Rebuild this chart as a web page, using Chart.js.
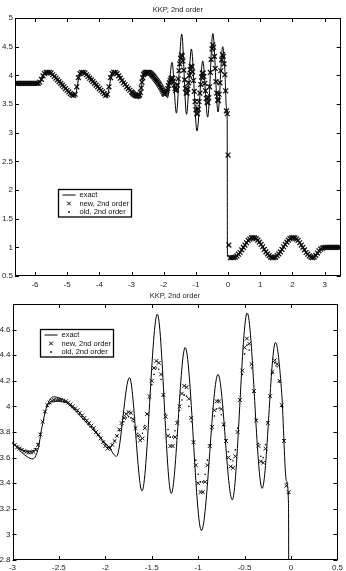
<!DOCTYPE html>
<html lang="en">
<head>
    <meta charset="UTF-8">
    <title>KKP, 2nd order</title>
    <script src="https://cdn.jsdelivr.net/npm/chart.js"></script>
    <style>
        html, body { margin: 0; padding: 0; background: #fff; }
        .panel { position: absolute; left: 0; width: 346px; }
        #topPanel { top: 0; height: 292px; }
        #zoomPanel { top: 285px; height: 286px; }
    </style>
</head>
<body>
    <!-- full domain -->
    <div class="panel" id="topPanel"><canvas id="topChart" width="346" height="292"></canvas></div>
    <!-- close-up of the oscillating part -->
    <div class="panel" id="zoomPanel"><canvas id="zoomChart" width="346" height="286"></canvas></div>

    <script>
        const titleText = 'KKP, 2nd order';
        const seriesNames = ['exact', 'new, 2nd order', 'old, 2nd order'];

        // exact solution, read at its turning points
        const exactX = [-6.62, -5.90, -5.80, -5.72, -5.64, -5.50, -5.15, -4.85, -4.78, -4.72,
                        -4.66, -4.60, -4.54, -4.42, -4.10, -3.84, -3.78, -3.72, -3.66, -3.60,
                        -3.54, -3.42, -3.20, -3.00, -2.90, -2.78, -2.72, -2.69, -2.63, -2.56,
                        -2.45, -2.20, -1.96, -1.88, -1.74, -1.605, -1.44, -1.29, -1.14, -0.965,
                        -0.786, -0.633, -0.472, -0.311, -0.167, -0.10, -0.05, -0.027, -0.02, 0.16,
                        0.78, 1.40, 2.02, 2.64, 2.80, 2.95, 3.05, 3.50];
        const exactY = [3.86, 3.86, 3.92, 4.03, 4.065, 4.04, 3.85, 3.65, 3.62, 3.70,
                        3.90, 4.03, 4.065, 4.04, 3.85, 3.66, 3.61, 3.70, 3.90, 4.03,
                        4.065, 4.03, 3.86, 3.72, 3.64, 3.59, 3.68, 3.81, 4.00, 4.075,
                        4.05, 3.87, 3.68, 3.61, 4.225, 3.34, 4.72, 3.32, 4.46, 3.03,
                        4.25, 3.27, 4.73, 3.36, 4.50, 4.10, 3.42, 3.24, 0.84, 0.82,
                        1.17, 0.82, 1.17, 0.82, 0.90, 0.99, 1.0, 1.0];

        // numerical solutions on the solver grid
        // left part (x = -6.6 .. -3.05), new and old coincide here
        const leftStart = -6.6, leftStep = 0.05;
        const newLeft = [3.86, 3.86, 3.86, 3.86, 3.86, 3.86, 3.86, 3.86, 3.86, 3.86,
                         3.86, 3.86, 3.86, 3.86, 3.86, 3.88, 3.93, 3.99, 4.03, 4.05,
                         4.05, 4.05, 4.04, 4.01, 3.98, 3.95, 3.92, 3.89, 3.86, 3.83,
                         3.80, 3.77, 3.74, 3.71, 3.68, 3.66, 3.65, 3.67, 3.80, 3.96,
                         4.03, 4.05, 4.05, 4.04, 4.01, 3.98, 3.95, 3.92, 3.89, 3.86,
                         3.83, 3.80, 3.77, 3.74, 3.71, 3.68, 3.65, 3.67, 3.80, 3.96,
                         4.03, 4.05, 4.05, 4.03, 3.99, 3.95, 3.91, 3.87, 3.84, 3.80,
                         3.77, 3.74];

        // middle part (x = -3 .. 0)
        const midStart = -3, midStep = 0.025;
        const newMid = [3.71, 3.70, 3.68, 3.67, 3.66, 3.65, 3.645, 3.64, 3.64, 3.645,
                        3.66, 3.70, 3.78, 3.88, 3.96, 4.01, 4.03, 4.045, 4.05, 4.05,
                        4.05, 4.05, 4.045, 4.04, 4.03, 4.015, 4.00, 3.985, 3.97, 3.95,
                        3.93, 3.91, 3.89, 3.87, 3.85, 3.83, 3.80, 3.78, 3.75, 3.72,
                        3.69, 3.67, 3.675, 3.70, 3.73, 3.77, 3.82, 3.87, 3.91, 3.94,
                        3.955, 3.95, 3.90, 3.83, 3.77, 3.735, 3.75, 3.83, 3.94, 4.08,
                        4.20, 4.30, 4.355, 4.34, 4.25, 4.09, 3.92, 3.77, 3.69, 3.69,
                        3.76, 3.87, 4.00, 4.10, 4.16, 4.15, 4.06, 3.91, 3.72, 3.54,
                        3.40, 3.33, 3.33, 3.41, 3.54, 3.69, 3.84, 3.97, 4.04, 4.04,
                        3.98, 3.86, 3.73, 3.60, 3.53, 3.52, 3.61, 3.80, 4.05, 4.28,
                        4.46, 4.53, 4.49, 4.33, 4.12, 3.89, 3.69, 3.57, 3.56, 3.67,
                        3.87, 4.08, 4.27, 4.36, 4.33, 4.20, 4.01, 3.73, 3.38, 3.33,
                        2.61];
        const oldMid = [3.71, 3.70, 3.69, 3.675, 3.665, 3.655, 3.65, 3.65, 3.65, 3.655,
                        3.67, 3.71, 3.79, 3.88, 3.95, 4.00, 4.02, 4.035, 4.04, 4.04,
                        4.04, 4.04, 4.035, 4.03, 4.02, 4.005, 3.99, 3.975, 3.96, 3.94,
                        3.92, 3.90, 3.88, 3.86, 3.84, 3.82, 3.795, 3.775, 3.75, 3.72,
                        3.70, 3.68, 3.684, 3.70, 3.73, 3.77, 3.81, 3.85, 3.88, 3.91,
                        3.92, 3.91, 3.88, 3.835, 3.79, 3.77, 3.79, 3.85, 3.94, 4.06,
                        4.17, 4.25, 4.30, 4.29, 4.21, 4.08, 3.94, 3.82, 3.76, 3.76,
                        3.81, 3.885, 3.97, 4.05, 4.09, 4.08, 4.00, 3.88, 3.73, 3.58,
                        3.47, 3.41, 3.41, 3.47, 3.58, 3.70, 3.82, 3.925, 3.98, 3.985,
                        3.935, 3.85, 3.74, 3.645, 3.585, 3.575, 3.66, 3.83, 4.05, 4.25,
                        4.41, 4.48, 4.44, 4.30, 4.11, 3.895, 3.71, 3.61, 3.60, 3.70,
                        3.88, 4.08, 4.26, 4.34, 4.31, 4.19, 4.00, 3.74, 3.40, 3.32,
                        2.61];

        // right part (x = 0.025 .. 3.475), new and old coincide here
        const rightStart = 0.025, rightStep = 0.05;
        const newRight = [1.04, 0.82, 0.82, 0.82, 0.83, 0.85, 0.88, 0.91, 0.955, 1.0,
                          1.04, 1.08, 1.12, 1.145, 1.165, 1.17, 1.165, 1.15, 1.125, 1.09,
                          1.05, 1.01, 0.965, 0.92, 0.885, 0.855, 0.83, 0.82, 0.82, 0.83,
                          0.855, 0.885, 0.92, 0.965, 1.01, 1.05, 1.09, 1.125, 1.15, 1.165,
                          1.17, 1.165, 1.145, 1.12, 1.08, 1.04, 1.0, 0.955, 0.91, 0.88,
                          0.85, 0.83, 0.82, 0.83, 0.86, 0.90, 0.94, 0.97, 0.985, 0.995,
                          1.0, 1.0, 1.0, 1.0, 1.0, 1.0, 1.0, 1.0, 1.0, 1.0];

        // axis ticks
        const topXTicks = [-6, -5, -4, -3, -2, -1, 0, 1, 2, 3];
        const topYTicks = [0.5, 1, 1.5, 2, 2.5, 3, 3.5, 4, 4.5, 5];
        const zoomXTicks = [-3, -2.5, -2, -1.5, -1, -0.5, 0, 0.5];
        const zoomYTicks = [2.8, 3, 3.2, 3.4, 3.6, 3.8, 4, 4.2, 4.4, 4.6];

        const fontFamily = '"Liberation Sans", Arial, Helvetica, sans-serif';

        function toPoints(start, step, ys) {
            return ys.map((y, i) => ({ x: +(start + i * step).toFixed(3), y: y }));
        }

        const exactPts = exactX.map((x, i) => ({ x: x, y: exactY[i] }));
        const newPts = [].concat(toPoints(leftStart, leftStep, newLeft),
                                 toPoints(midStart, midStep, newMid),
                                 toPoints(rightStart, rightStep, newRight));
        const oldPts = [].concat(toPoints(leftStart, leftStep, newLeft),
                                 toPoints(midStart, midStep, oldMid),
                                 toPoints(rightStart, rightStep, newRight));

        const fmt = v => String(Math.round(v * 100) / 100);

        // box, inward ticks, title and legend like the original figure
        const figurePlugin = {
            id: 'figure',
            afterDraw(chart, args, o) {
                const ctx = chart.ctx;
                const a = chart.chartArea;
                const sx = chart.scales.x, sy = chart.scales.y;
                ctx.save();
                ctx.strokeStyle = '#000';
                ctx.lineWidth = 1;
                ctx.beginPath();
                o.xTicks.forEach(v => {
                    const p = Math.round(sx.getPixelForValue(v)) + 0.5;
                    ctx.moveTo(p, a.bottom); ctx.lineTo(p, a.bottom - 4);
                    ctx.moveTo(p, a.top); ctx.lineTo(p, a.top + 4);
                });
                o.yTicks.forEach(v => {
                    const p = Math.round(sy.getPixelForValue(v)) + 0.5;
                    ctx.moveTo(a.left, p); ctx.lineTo(a.left + 4, p);
                    ctx.moveTo(a.right, p); ctx.lineTo(a.right - 4, p);
                });
                ctx.stroke();
                ctx.strokeRect(Math.round(a.left) + 0.5, Math.round(a.top) + 0.5,
                               Math.round(a.width) - 1, Math.round(a.height) - 1);

                // title
                ctx.fillStyle = '#222';
                ctx.font = '7.5px ' + fontFamily;
                ctx.textAlign = 'center';
                ctx.textBaseline = 'middle';
                ctx.fillText(titleText, (a.left + a.right) / 2, o.titleY);

                // legend
                const L = o.legend;
                const rows = [5.5, 14, 22.5];
                ctx.fillStyle = '#fff';
                ctx.fillRect(L.x, L.y, 73, 27.5);
                ctx.lineWidth = 1.3;
                ctx.strokeRect(L.x, L.y, 73, 27.5);
                ctx.lineWidth = 1;
                ctx.beginPath();
                ctx.moveTo(L.x + 4, L.y + rows[0]);
                ctx.lineTo(L.x + 17, L.y + rows[0]);
                const cx = L.x + 10.5, cy = L.y + rows[1], r = 1.8;
                ctx.moveTo(cx - r, cy - r); ctx.lineTo(cx + r, cy + r);
                ctx.moveTo(cx - r, cy + r); ctx.lineTo(cx + r, cy - r);
                ctx.stroke();
                ctx.fillStyle = '#000';
                ctx.beginPath();
                ctx.arc(cx, L.y + rows[2], 0.9, 0, Math.PI * 2);
                ctx.fill();
                ctx.fillStyle = '#111';
                ctx.textAlign = 'left';
                seriesNames.forEach((name, i) => ctx.fillText(name, L.x + 21, L.y + rows[i]));
                ctx.restore();
            }
        };

        function makeChart(canvasId, cfg) {
            return new Chart(document.getElementById(canvasId), {
                type: 'scatter',
                data: {
                    datasets: [
                        {
                            label: seriesNames[0], data: exactPts, showLine: true,
                            borderColor: '#000', borderWidth: 1, pointRadius: 0,
                            cubicInterpolationMode: 'monotone', order: 3
                        },
                        {
                            label: seriesNames[1], data: newPts, showLine: false,
                            pointStyle: 'crossRot', pointRadius: cfg.markR, borderWidth: cfg.markW,
                            borderColor: '#111', backgroundColor: '#111', order: 2
                        },
                        {
                            label: seriesNames[2], data: oldPts, showLine: false,
                            pointStyle: 'circle', pointRadius: 0.8, borderWidth: 0,
                            backgroundColor: '#000', order: 1
                        }
                    ]
                },
                options: {
                    responsive: false,
                    devicePixelRatio: 1,
                    animation: false,
                    events: [],
                    layout: { padding: { top: cfg.padTop, right: cfg.padRight, left: 0, bottom: 0 } },
                    scales: {
                        x: {
                            type: 'linear', min: cfg.xMin, max: cfg.xMax,
                            afterBuildTicks: s => { s.ticks = cfg.xTicks.map(v => ({ value: v })); },
                            afterFit: s => { s.height = cfg.xAxisH; },
                            grid: { display: false, drawTicks: false },
                            border: { display: false },
                            ticks: {
                                autoSkip: false, maxRotation: 0, padding: cfg.xPad,
                                color: '#222', font: { family: fontFamily, size: 8 },
                                callback: fmt
                            }
                        },
                        y: {
                            type: 'linear', min: cfg.yMin, max: cfg.yMax,
                            afterBuildTicks: s => { s.ticks = cfg.yTicks.map(v => ({ value: v })); },
                            afterFit: s => { s.width = cfg.yAxisW; },
                            grid: { display: false, drawTicks: false },
                            border: { display: false },
                            ticks: {
                                autoSkip: false, padding: 2,
                                color: '#222', font: { family: fontFamily, size: 8 },
                                callback: fmt
                            }
                        }
                    },
                    plugins: {
                        legend: { display: false },
                        tooltip: { enabled: false },
                        figure: {
                            xTicks: cfg.xTicks, yTicks: cfg.yTicks,
                            titleY: cfg.titleY, legend: cfg.legend
                        }
                    }
                },
                plugins: [figurePlugin]
            });
        }

        makeChart('topChart', {
            xMin: -6.62, xMax: 3.5, yMin: 0.5, yMax: 5,
            xTicks: topXTicks, yTicks: topYTicks,
            padTop: 18, padRight: 3, yAxisW: 15, xAxisH: 16, xPad: 4,
            markR: 3.4, markW: 1.3,
            titleY: 9.5, legend: { x: 58.5, y: 189.5 }
        });

        makeChart('zoomChart', {
            xMin: -3, xMax: 0.5, yMin: 2.8, yMax: 4.8,
            xTicks: zoomXTicks, yTicks: zoomYTicks,
            padTop: 19, padRight: 8, yAxisW: 12.5, xAxisH: 11, xPad: 3,
            markR: 2.7, markW: 1,
            titleY: 11, legend: { x: 40.5, y: 44.5 }
        });
    </script>
</body>
</html>
